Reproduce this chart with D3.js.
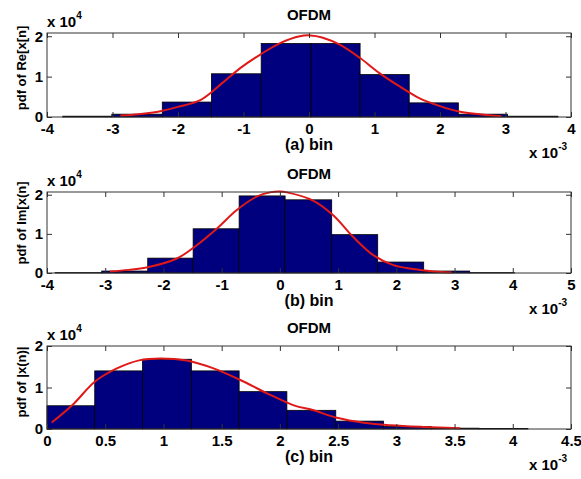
<!DOCTYPE html>
<html>
<head>
<meta charset="utf-8">
<script src="https://cdn.jsdelivr.net/npm/d3@7"></script>
<style>
  body { margin: 0; background: #fff; }
  text { font-family: "Liberation Sans", Arial, sans-serif; font-weight: bold; fill: #000; }
</style>
</head>
<body>
<script>
// Values: x in units of 1e-3, y in units of 1e4

// (a) real part
const reTicks = [-4, -3, -2, -1, 0, 1, 2, 3, 4];
const reEdges = [-3.76, -3.01, -2.24, -1.49, -0.73, 0.03, 0.78, 1.53, 2.28, 3.03, 3.80];
const reHeights = [0.02, 0.07, 0.37, 1.07, 1.82, 1.82, 1.05, 0.35, 0.07, 0.02];
const reCurve = [
    [-2.88, 0.04], [-2.6, 0.07], [-2.25, 0.15], [-2.0, 0.25], [-1.66, 0.42], [-1.36, 0.79],
    [-1.05, 1.21], [-0.75, 1.54], [-0.44, 1.83], [-0.14, 2.0], [0.02, 2.02], [0.2, 1.97],
    [0.47, 1.79], [0.78, 1.46], [1.08, 1.08], [1.39, 0.75], [1.69, 0.46], [2.0, 0.27],
    [2.31, 0.13], [2.61, 0.07], [2.94, 0.02]
];

// (b) imaginary part
const imTicks = [-4, -3, -2, -1, 0, 1, 2, 3, 4, 5];
const imEdges = [-3.86, -3.06, -2.27, -1.49, -0.70, 0.09, 0.89, 1.68, 2.47, 3.26, 4.03];
const imHeights = [0.01, 0.05, 0.38, 1.13, 1.97, 1.87, 0.98, 0.28, 0.05, 0.01];
const imCurve = [
    [-2.92, 0.04], [-2.6, 0.08], [-2.29, 0.14], [-1.77, 0.37], [-1.43, 0.71], [-1.08, 1.14],
    [-0.74, 1.61], [-0.40, 1.95], [-0.17, 2.06], [0.0, 2.08], [0.12, 2.06], [0.57, 1.85],
    [0.92, 1.47], [1.26, 0.92], [1.61, 0.45], [1.95, 0.20], [2.29, 0.10], [2.64, 0.04],
    [2.95, 0.01]
];

// (c) magnitude
const absTicks = [0, 0.5, 1, 1.5, 2, 2.5, 3, 3.5, 4, 4.5];
const absEdges = [0, 0.41, 0.82, 1.24, 1.65, 2.06, 2.48, 2.89, 3.30, 3.71, 4.13];
const absHeights = [0.56, 1.40, 1.68, 1.40, 0.90, 0.45, 0.19, 0.06, 0.02, 0.01];
const absCurve = [
    [0.04, 0.155], [0.23, 0.61], [0.41, 1.14], [0.60, 1.46], [0.80, 1.66], [0.97, 1.70],
    [1.20, 1.65], [1.43, 1.46], [1.66, 1.18], [1.89, 0.86], [2.12, 0.57], [2.29, 0.45],
    [2.49, 0.27], [2.72, 0.15], [2.95, 0.09], [3.23, 0.05], [3.55, 0.02]
];

const yTicks = [0, 1, 2];

const panels = [
    { title: "OFDM", xlabel: "(a) bin", ylabel: "pdf of Re[x[n]", ticks: reTicks, edges: reEdges,
      heights: reHeights, curve: reCurve, yMax: 2.08, top: 33, bottom: 117, ylabelY: 68 },
    { title: "OFDM", xlabel: "(b) bin", ylabel: "pdf of Im[x(n]", ticks: imTicks, edges: imEdges,
      heights: imHeights, curve: imCurve, yMax: 2.07, top: 192, bottom: 273, ylabelY: 223 },
    { title: "OFDM", xlabel: "(c) bin", ylabel: "pdf of |x(n)|", ticks: absTicks, edges: absEdges,
      heights: absHeights, curve: absCurve, yMax: 2.0, top: 346, bottom: 429, ylabelY: 382 }
];

const left = 47, right = 571;

const svg = d3.select("body")
    .append("svg")
    .attr("width", 581)
    .attr("height", 479);

panels.forEach((p) => {
    const g = svg.append("g");

    const x = d3.scaleLinear()
        .domain(d3.extent(p.ticks))
        .range([left, right]);
    const y = d3.scaleLinear()
        .domain([0, p.yMax])
        .range([p.bottom, p.top]);

    // Histogram bars
    const bins = p.heights.map((h, i) => ({ x0: p.edges[i], x1: p.edges[i + 1], h: h }));
    g.selectAll("rect.bar")
        .data(bins)
        .join("rect")
        .attr("class", "bar")
        .attr("x", (d) => x(d.x0))
        .attr("width", (d) => x(d.x1) - x(d.x0))
        .attr("y", (d) => y(d.h))
        .attr("height", (d) => y(0) - y(d.h))
        .attr("fill", "#00007f")
        .attr("stroke", "#000")
        .attr("stroke-width", 0.8);

    // Fitted curve
    const line = d3.line()
        .x((d) => x(d[0]))
        .y((d) => y(d[1]))
        .curve(d3.curveCatmullRom);
    g.append("path")
        .datum(p.curve)
        .attr("d", line)
        .attr("fill", "none")
        .attr("stroke", "#e01818")
        .attr("stroke-width", 2);

    // Axes, ticks pointing inwards on all four sides
    const fmt = (d) => String(d);
    const axisStyle = (sel) => {
        sel.select(".domain").remove();
        sel.selectAll(".tick line").attr("stroke", "#333");
        sel.selectAll(".tick text")
            .style("font-family", "'Liberation Sans', Arial, sans-serif")
            .style("font-weight", "bold")
            .style("font-size", "15px")
            .attr("fill", "#000");
    };
    g.append("g")
        .attr("transform", `translate(0, ${p.bottom})`)
        .call(d3.axisBottom(x).tickValues(p.ticks).tickFormat(fmt).tickSizeInner(-5).tickPadding(6))
        .call(axisStyle);
    g.append("g")
        .attr("transform", `translate(0, ${p.top})`)
        .call(d3.axisTop(x).tickValues(p.ticks).tickSizeInner(-5).tickFormat(""))
        .call(axisStyle);
    g.append("g")
        .attr("transform", `translate(${left}, 0)`)
        .call(d3.axisLeft(y).tickValues(yTicks).tickFormat(fmt).tickSizeInner(-5).tickPadding(4))
        .call(axisStyle);
    g.append("g")
        .attr("transform", `translate(${right}, 0)`)
        .call(d3.axisRight(y).tickValues(yTicks).tickSizeInner(-5).tickFormat(""))
        .call(axisStyle);

    // Box
    g.append("rect")
        .attr("x", left)
        .attr("y", p.top)
        .attr("width", right - left)
        .attr("height", p.bottom - p.top)
        .attr("fill", "none")
        .attr("stroke", "#333")
        .attr("stroke-width", 1);

    // Title and labels
    g.append("text")
        .attr("x", (left + right) / 2)
        .attr("y", p.top - 13)
        .attr("text-anchor", "middle")
        .style("font-size", "15px")
        .text(p.title);

    g.append("text")
        .attr("x", (left + right) / 2)
        .attr("y", p.bottom + 33)
        .attr("text-anchor", "middle")
        .style("font-size", "16px")
        .text(p.xlabel);

    g.append("text")
        .attr("transform", `translate(26, ${p.ylabelY}) rotate(-90)`)
        .attr("text-anchor", "middle")
        .style("font-size", "13px")
        .text(p.ylabel);

    // Exponent labels
    const ey = g.append("text")
        .attr("x", left)
        .attr("y", p.top - 6)
        .style("font-size", "15px");
    ey.append("tspan").text("x 10");
    ey.append("tspan").attr("dy", -8).style("font-size", "10px").text("4");

    const ex = g.append("text")
        .attr("x", 529)
        .attr("y", p.bottom + 41)
        .style("font-size", "15px");
    ex.append("tspan").text("x 10");
    ex.append("tspan").attr("dy", -8).style("font-size", "10px").text("-3");
});
</script>
</body>
</html>
